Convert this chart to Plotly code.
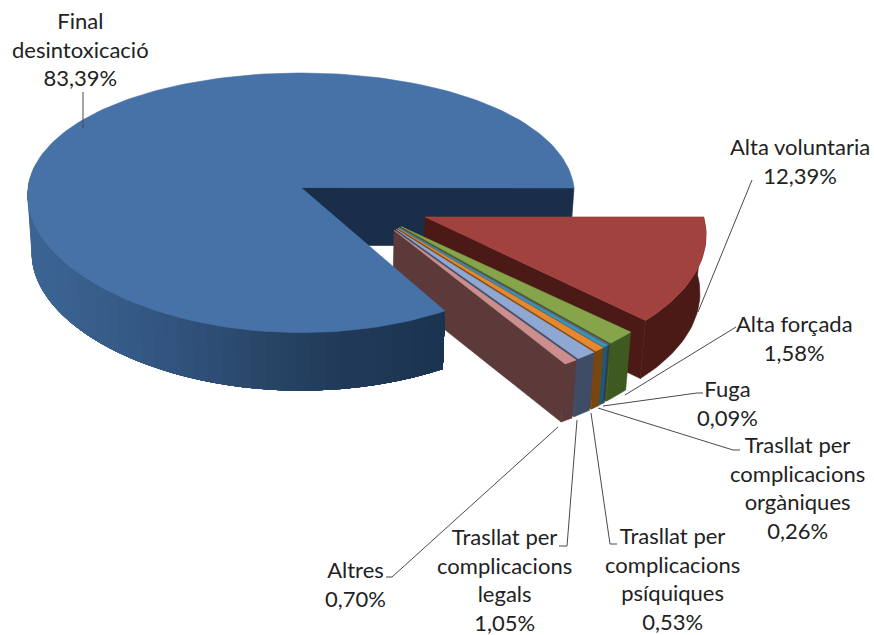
import math
import plotly.graph_objects as go

# ---- data ----
names = ["Final<br>desintoxicació", "Alta voluntaria", "Alta forçada", "Fuga",
         "Trasllat per<br>complicacions<br>orgàniques",
         "Trasllat per<br>complicacions<br>psíquiques",
         "Trasllat per<br>complicacions<br>legals", "Altres"]
values = [83.39, 12.39, 1.58, 0.09, 0.26, 0.53, 1.05, 0.70]
top_colors = ["#4672a8", "#a2423f", "#86a44a", "#6f5f94", "#3c94b4", "#e8872e", "#8fa8d3", "#cc8f8d"]
wall_colors = ["#2f5280", "#4c1a16", "#3f5a20", "#3b2f55", "#1d5a72", "#7a4610", "#3f4c66", "#5c3a3a"]

# ---- geometry of the tilted pie (pixels of the 874x635 page) ----
CX, CY, R, RY, K, DEPTH = 301, 187.5, 273, 128, 0.118, 58
KX_BLUE, KX_RED, KX_GROUP = 0.06, 0.09, 0.118
START = -60.0          # first slice starts here and runs clockwise
RED_EXPLODE, RED_TILT = 0.498, -4.4
GROUP_EXPLODE, GROUP_DIR, GROUP_FAN = 0.46, -39.8, 0.42
BLUE_RAMP = [(-60, "#1a3350"), (-84, "#213a5a"), (-98, "#284565"), (-113, "#2f5079"),
             (-129, "#355a85"), (-150, "#3a6291"), (-190, "#3f6796")]
kx = KX_BLUE


def project(u, v, z=0.0):
    s = 1 - 0.015 * z
    return CX + R * u / (1 + kx * v) * s, CY - RY * v / (1 + K * v) + DEPTH * z


def mix(c1, c2, t):
    a = [int(c1[i:i + 2], 16) for i in (1, 3, 5)]
    b = [int(c2[i:i + 2], 16) for i in (1, 3, 5)]
    return "#" + "".join(f"{round(p + (q - p) * t):02x}" for p, q in zip(a, b))


def ramp_color(ang):
    for (a0, c0), (a1, c1) in zip(BLUE_RAMP, BLUE_RAMP[1:]):
        if a1 <= ang <= a0:
            return mix(c0, c1, (a0 - ang) / (a0 - a1))
    return BLUE_RAMP[-1][1]


fig = go.Figure()


def poly(pts, color, lw=0.6):
    xs = [p[0] for p in pts] + [pts[0][0]]
    ys = [p[1] for p in pts] + [pts[0][1]]
    fig.add_trace(go.Scatter(x=xs, y=ys, mode="lines", fill="toself", fillcolor=color,
                             line=dict(color=color, width=lw), hoverinfo="skip", showlegend=False))


def rim(ox, oy, ang, z=0.0):
    return project(ox + math.cos(math.radians(ang)), oy + math.sin(math.radians(ang)), z)


def arc(ox, oy, a0, a1, z=0.0):
    n = max(2, int(abs(a1 - a0) / 1.5) + 1)
    return [rim(ox, oy, a0 + (a1 - a0) * i / n, z) for i in range(n + 1)]


# angular span of every slice
spans = []
a = 0.0
for val in values[1:]:            # slices after the first run clockwise from east
    spans.append((a, a - val * 3.6))
    a -= val * 3.6
spans = [(START, START - values[0] * 3.6)] + spans

# inner face of the big slice lies behind everything
poly([project(0, 0), project(1, 0), project(1, 0, 1), project(0, 0, 1)], "#1a2e4a")

# exploded slices, back to front
for i in range(1, len(values)):
    a0, a1 = spans[i]
    mid = (a0 + a1) / 2
    if i == 1:
        kx = KX_RED
        d, e = math.radians(mid + RED_TILT), RED_EXPLODE
    else:
        kx = KX_GROUP
        d, e = math.radians(GROUP_DIR + GROUP_FAN * (mid - (spans[2][0] + spans[2][1]) / 2)), GROUP_EXPLODE
    ox, oy = e * math.cos(d), e * math.sin(d)
    poly(arc(ox, oy, a0, a1) + arc(ox, oy, a1, a0, 1), wall_colors[i])
    poly([project(ox, oy), rim(ox, oy, a1), rim(ox, oy, a1, 1), project(ox, oy, 1)], wall_colors[i])
    poly([project(ox, oy)] + arc(ox, oy, a0, a1), top_colors[i])

# big slice in front: wall painted from the far end inward so no seams show, then top
kx = KX_BLUE
a0, a1 = spans[0]
ang = -190.0
while ang < a0:
    poly(arc(0, 0, a0, ang) + arc(0, 0, ang, a0, 1), ramp_color(ang), lw=0)
    ang += 3.0
poly([project(0, 0)] + arc(0, 0, a0, a1), top_colors[0])

# ---- leader lines ----
leaders = [
    [(83, 92), (83, 128)],
    [(752, 180), (698, 312)],
    [(736, 327), (625, 395)],
    [(703, 393), (697, 393), (603, 406)],
    [(740, 450), (733, 450), (598, 408)],
    [(617, 544), (610, 544), (591, 413)],
    [(559, 546), (567, 546), (577, 420)],
    [(386, 577), (392, 577), (558, 427)],
]
for pts in leaders:
    fig.add_trace(go.Scatter(x=[p[0] for p in pts], y=[p[1] for p in pts], mode="lines",
                             line=dict(color="#4a4a4a", width=1), hoverinfo="skip", showlegend=False))

# ---- labels ----
label_pos = [(80, 49), (800, 161), (794, 338), (727, 403), (797, 487), (672, 578), (504, 579), (355, 584)]
for name, val, (lx, ly) in zip(names, values, label_pos):
    fig.add_annotation(x=lx, y=ly, xref="x", yref="y", showarrow=False, align="center",
                       text=f"{name}<br>{val:.2f}".replace(".", ",") + "%",
                       font=dict(family="Lato, Carlito, sans-serif", size=22, color="#222222"))

fig.update_xaxes(range=[0, 874], visible=False, fixedrange=True)
fig.update_yaxes(range=[635, 0], visible=False, fixedrange=True)
fig.update_layout(width=874, height=635, margin=dict(l=0, r=0, t=0, b=0),
                  paper_bgcolor="white", plot_bgcolor="white", showlegend=False)
fig.write_html("out.html", config={"displayModeBar": False},
               post_script="document.body.style.margin='0';document.body.style.overflow='hidden';")
